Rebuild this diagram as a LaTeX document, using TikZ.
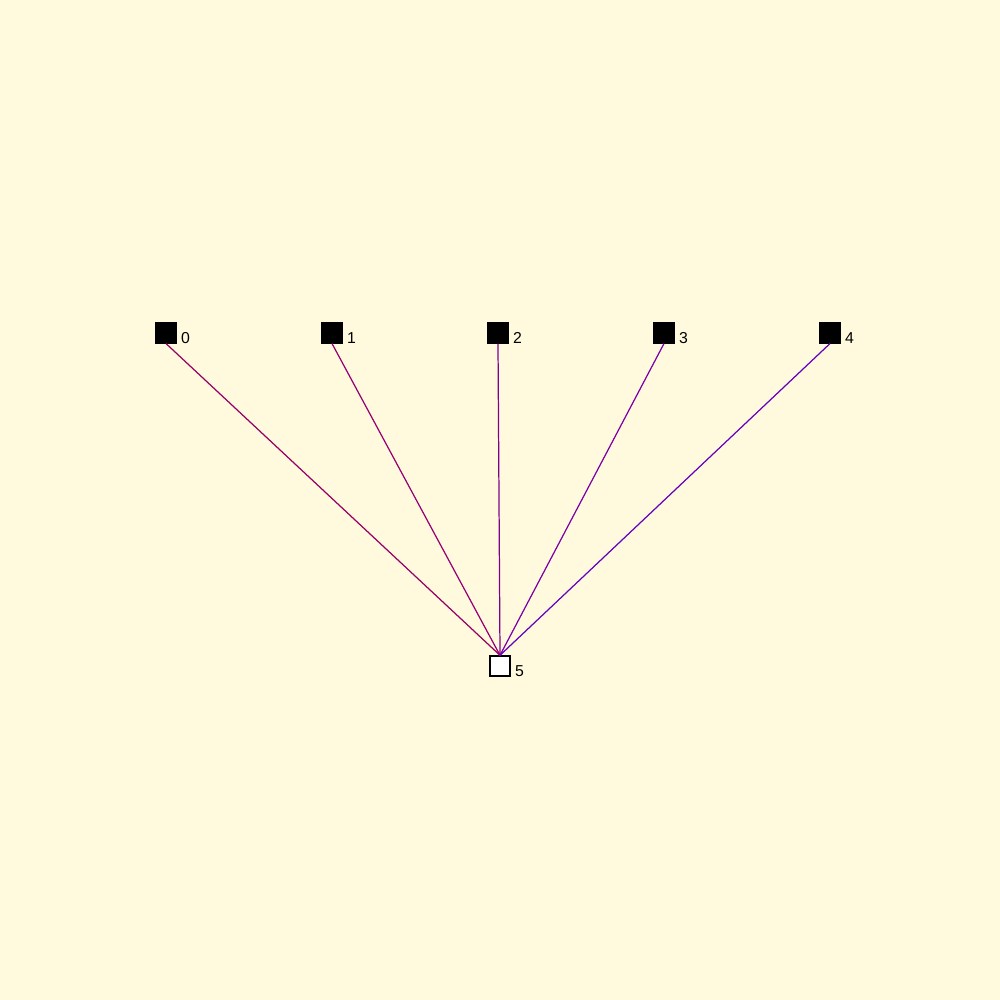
\documentclass[tikz,border=0pt]{standalone}
\usepackage{fontspec}
\setmainfont{Liberation Sans}
\definecolor{bg}{RGB}{255,250,222}
\definecolor{e0}{RGB}{150,0,100}
\definecolor{e1}{RGB}{150,0,115}
\definecolor{e2}{RGB}{128,0,140}
\definecolor{e3}{RGB}{125,0,165}
\definecolor{e4}{RGB}{100,0,190}
\begin{document}
\begin{tikzpicture}[x=0.01cm,y=-0.01cm,
  blk/.style={draw=black,fill=black,minimum size=0.2cm,inner sep=0pt,line width=0.3pt},
  wht/.style={draw=black,fill=white,minimum size=0.2cm,inner sep=0pt,line width=0.4pt},
  lbl/.style={font=\fontsize{4.5pt}{5pt}\selectfont,inner sep=0pt,anchor=center},
  edge/.style={line width=0.35pt}]
\fill[bg] (0,0) rectangle (1000,1000);
\useasboundingbox (0,0) rectangle (1000,1000);
\node[blk] (n0) at (166,333) {};
\node[blk] (n1) at (332,333) {};
\node[blk] (n2) at (498,333) {};
\node[blk] (n3) at (664,333) {};
\node[blk] (n4) at (830,333) {};
\node[wht] (n5) at (500,666) {};
\node[lbl] (l0) at (185.5,338) {0};
\node[lbl] (l1) at (351.5,338) {1};
\node[lbl] (l2) at (517.5,338) {2};
\node[lbl] (l3) at (683.5,338) {3};
\node[lbl] (l4) at (849.5,338) {4};
\node[lbl] (l5) at (519.5,671) {5};
\draw[edge,e0] (n0.south) -- (n5.north);
\draw[edge,e1] (n1.south) -- (n5.north);
\draw[edge,e2] (n2.south) -- (n5.north);
\draw[edge,e3] (n3.south) -- (n5.north);
\draw[edge,e4] (n4.south) -- (n5.north);
\end{tikzpicture}
\end{document}
